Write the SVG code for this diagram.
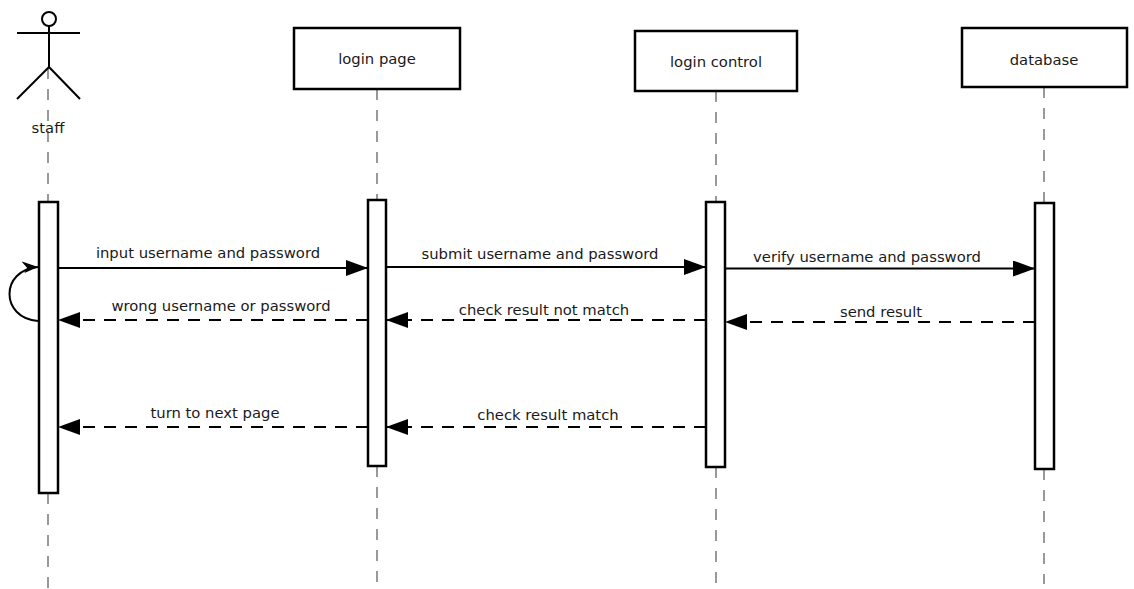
<svg xmlns="http://www.w3.org/2000/svg" width="1134" height="589" viewBox="0 0 1134 589">
<style>
  text { font-family: "DejaVu Sans", Verdana, sans-serif; font-size: 14.8px; fill: #1a1a1a; }
  .box { fill: #ffffff; stroke: #000000; stroke-width: 2.5; }
  .act { fill: #ffffff; stroke: #000000; stroke-width: 2.5; }
  .life { stroke: #808080; stroke-width: 1.6; stroke-dasharray: 11 10; fill: none; }
  .msg { stroke: #000000; stroke-width: 2; fill: none; }
  .ret { stroke: #000000; stroke-width: 2; fill: none; stroke-dasharray: 12 9; }
  .actor { stroke: #000000; stroke-width: 2; fill: none; }
</style>
<defs>
  <marker id="arrow" viewBox="0 0 22 16" refX="22" refY="8" markerWidth="22" markerHeight="16" markerUnits="userSpaceOnUse" orient="auto">
    <path d="M0,0 L22,8 L0,16 Z" fill="#000000"/>
  </marker>
  <marker id="loopArrow" viewBox="0 0 16 14" refX="16" refY="7" markerWidth="16" markerHeight="14" markerUnits="userSpaceOnUse" orient="auto">
    <path d="M0,0 L16,7 L2,12 L5,7 Z" fill="#000000"/>
  </marker>
</defs>
<rect width="1134" height="589" fill="#ffffff"/>

<g id="lifelines">
  <line class="life" x1="48" y1="68" x2="48" y2="202"/>
  <line class="life" x1="48" y1="493" x2="48" y2="589"/>
  <line class="life" x1="377" y1="89" x2="377" y2="200"/>
  <line class="life" x1="377" y1="466" x2="377" y2="584"/>
  <line class="life" x1="716" y1="91" x2="716" y2="202"/>
  <line class="life" x1="716" y1="467" x2="716" y2="584"/>
  <line class="life" x1="1044" y1="87" x2="1044" y2="203"/>
  <line class="life" x1="1044" y1="469" x2="1044" y2="584"/>
</g>

<g id="staff">
  <circle class="actor" cx="49" cy="19" r="7"/>
  <line class="actor" x1="49" y1="26" x2="49" y2="67"/>
  <line class="actor" x1="17" y1="33" x2="80" y2="33"/>
  <line class="actor" x1="49" y1="67" x2="17" y2="99"/>
  <line class="actor" x1="49" y1="67" x2="80" y2="99"/>
  <text x="48" y="133" text-anchor="middle">staff</text>
  <rect class="act" x="39" y="202" width="19" height="291"/>
</g>

<g id="login-page">
  <rect class="box" x="294" y="28" width="166" height="61"/>
  <text x="377" y="64" text-anchor="middle">login page</text>
  <rect class="act" x="368" y="200" width="18" height="266"/>
</g>

<g id="login-control">
  <rect class="box" x="635" y="31" width="162" height="60"/>
  <text x="716" y="67" text-anchor="middle">login control</text>
  <rect class="act" x="706" y="202" width="19" height="265"/>
</g>

<g id="database">
  <rect class="box" x="962" y="28" width="165" height="59"/>
  <text x="1044" y="65" text-anchor="middle">database</text>
  <rect class="act" x="1035" y="203" width="19" height="266"/>
</g>

<g id="connectors">
  <path class="msg" d="M38,321 C0,318 0,270 38,267" marker-end="url(#loopArrow)"/>
  <line class="msg" x1="58" y1="268" x2="368" y2="268" marker-end="url(#arrow)"/>
  <line class="msg" x1="386" y1="267" x2="706" y2="267" marker-end="url(#arrow)"/>
  <line class="msg" x1="725" y1="268.5" x2="1035" y2="268.5" marker-end="url(#arrow)"/>
  <line class="ret" x1="1035" y1="322" x2="725" y2="322" marker-end="url(#arrow)"/>
  <line class="ret" x1="706" y1="320" x2="386" y2="320" marker-end="url(#arrow)"/>
  <line class="ret" x1="368" y1="320" x2="58" y2="320" marker-end="url(#arrow)"/>
  <line class="ret" x1="706" y1="427" x2="386" y2="427" marker-end="url(#arrow)"/>
  <line class="ret" x1="368" y1="427" x2="58" y2="427" marker-end="url(#arrow)"/>
</g>

<g id="labels">
  <text x="208" y="258" text-anchor="middle">input username and password</text>
  <text x="540" y="259" text-anchor="middle">submit username and password</text>
  <text x="867" y="262" text-anchor="middle">verify username and password</text>
  <text x="881" y="317" text-anchor="middle">send result</text>
  <text x="544" y="315" text-anchor="middle">check result not match</text>
  <text x="221" y="311" text-anchor="middle">wrong username or password</text>
  <text x="548" y="420" text-anchor="middle">check result match</text>
  <text x="215" y="418" text-anchor="middle">turn to next page</text>
</g>
</svg>
